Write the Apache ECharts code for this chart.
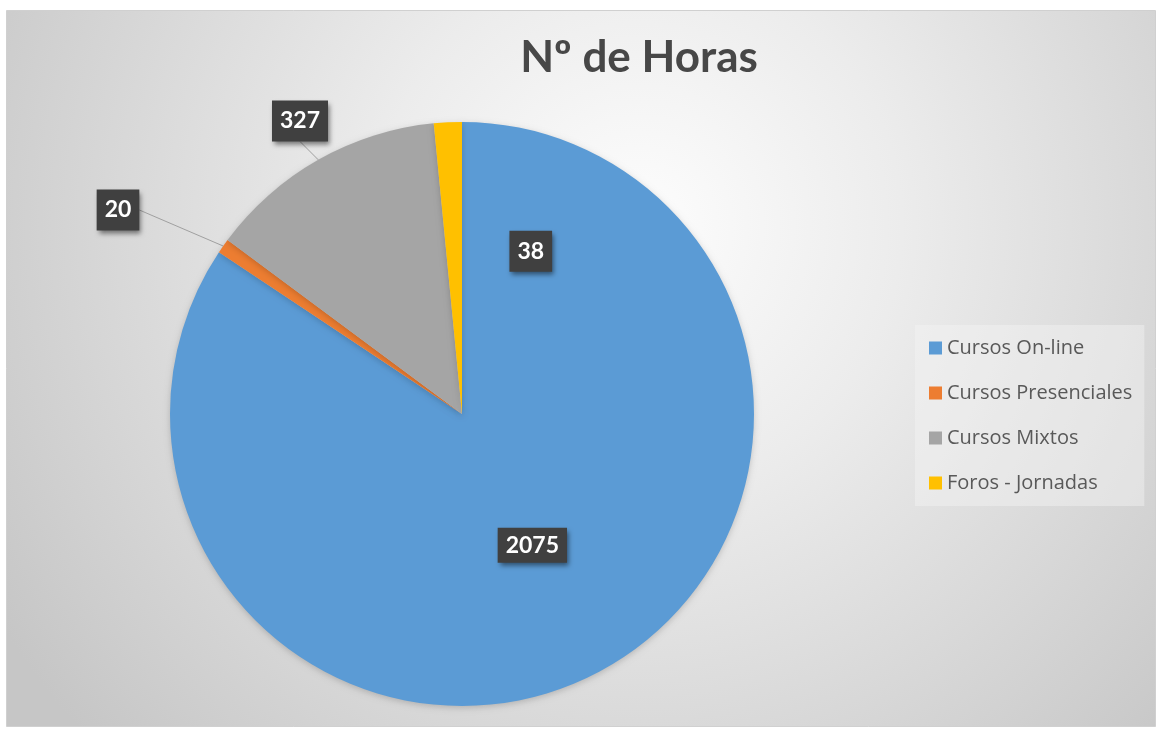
<!DOCTYPE html>
<html>
<head>
<meta charset="utf-8">
<script src="https://cdn.jsdelivr.net/npm/echarts@6/dist/echarts.min.js"></script>
<style>
  html, body { margin: 0; padding: 0; background: #fff; }
  #main { width: 1156px; height: 730px; }
</style>
</head>
<body>
<div id="main"></div>
<script>
// categories and values
var categories = ['Cursos On-line', 'Cursos Presenciales', 'Cursos Mixtos', 'Foros - Jornadas']
var hours = [2075, 20, 327, 38]
var colors = ['#5b9bd5', '#ed7d31', '#a5a5a5', '#ffc000']

var chart = echarts.init(document.getElementById('main'))

// label boxes look like excel's dark callouts
var labelStyle = {
  show: true,
  position: 'inside',
  formatter: '{c}',
  color: '#fff',
  fontFamily: 'Lato',
  fontWeight: 'bold',
  fontSize: 23,
  lineHeight: 25,
  backgroundColor: '#404040',
  padding: [5, 8],
  shadowColor: 'rgba(0,0,0,0.5)',
  shadowBlur: 5,
  shadowOffsetX: 2,
  shadowOffsetY: 3
}

var pieData = categories.map(function (name, i) {
  var item = { name: name, value: hours[i], itemStyle: { color: colors[i] } }
  if (i === 1 || i === 2) {
    item.label = { position: 'outside', padding: [8, 8] }
    item.labelLine = { show: true, length: 20, length2: 0 }
  }
  if (i === 3) {
    item.label = { padding: [8, 8] }
  }
  return item
})

chart.setOption({
  backgroundColor: '#fff',
  graphic: [{
    type: 'rect',
    left: 6,
    top: 10,
    z: -10,
    shape: { width: 1149, height: 716 },
    style: {
      fill: {
        type: 'radial', x: 0.55, y: 0.3, r: 1.05,
        colorStops: [
          { offset: 0, color: '#fdfdfd' },
          { offset: 0.35, color: '#ececec' },
          { offset: 1, color: '#c6c6c6' }
        ]
      },
      stroke: '#d0d0d0',
      lineWidth: 1
    }
  }],
  title: {
    text: 'Nº de Horas',
    left: 634,
    top: 31,
    textAlign: 'center',
    textStyle: {
      fontFamily: 'Lato',
      fontWeight: 'bold',
      fontSize: 44,
      color: '#474747'
    }
  },
  legend: {
    orient: 'vertical',
    left: 915,
    top: 325,
    padding: [13, 12, 13, 14],
    backgroundColor: 'rgba(245,245,245,0.45)',
    itemWidth: 13,
    itemHeight: 13,
    itemGap: 25,
    icon: 'rect',
    textStyle: {
      fontFamily: 'Open Sans',
      fontSize: 20,
      lineHeight: 20,
      color: '#595959'
    },
    data: categories
  },
  series: [{
    type: 'pie',
    center: [462, 414],
    radius: 292,
    startAngle: 90,
    clockwise: true,
    avoidLabelOverlap: false,
    emphasis: { scale: false },
    itemStyle: {
      shadowColor: 'rgba(0,0,0,0.18)',
      shadowBlur: 6,
      shadowOffsetY: 2
    },
    label: labelStyle,
    labelLine: {
      lineStyle: { color: '#a0a0a0', width: 1 }
    },
    labelLayout: function (params) {
      if (params.dataIndex === 1) {
        return { x: 118, y: 210, align: 'center', verticalAlign: 'middle' }
      }
      if (params.dataIndex === 2) {
        return { x: 300, y: 121, align: 'center', verticalAlign: 'middle' }
      }
      if (params.dataIndex === 3) {
        return { dx: 76, dy: -14 }
      }
      return {}
    },
    data: pieData
  }]
})
</script>
</body>
</html>
